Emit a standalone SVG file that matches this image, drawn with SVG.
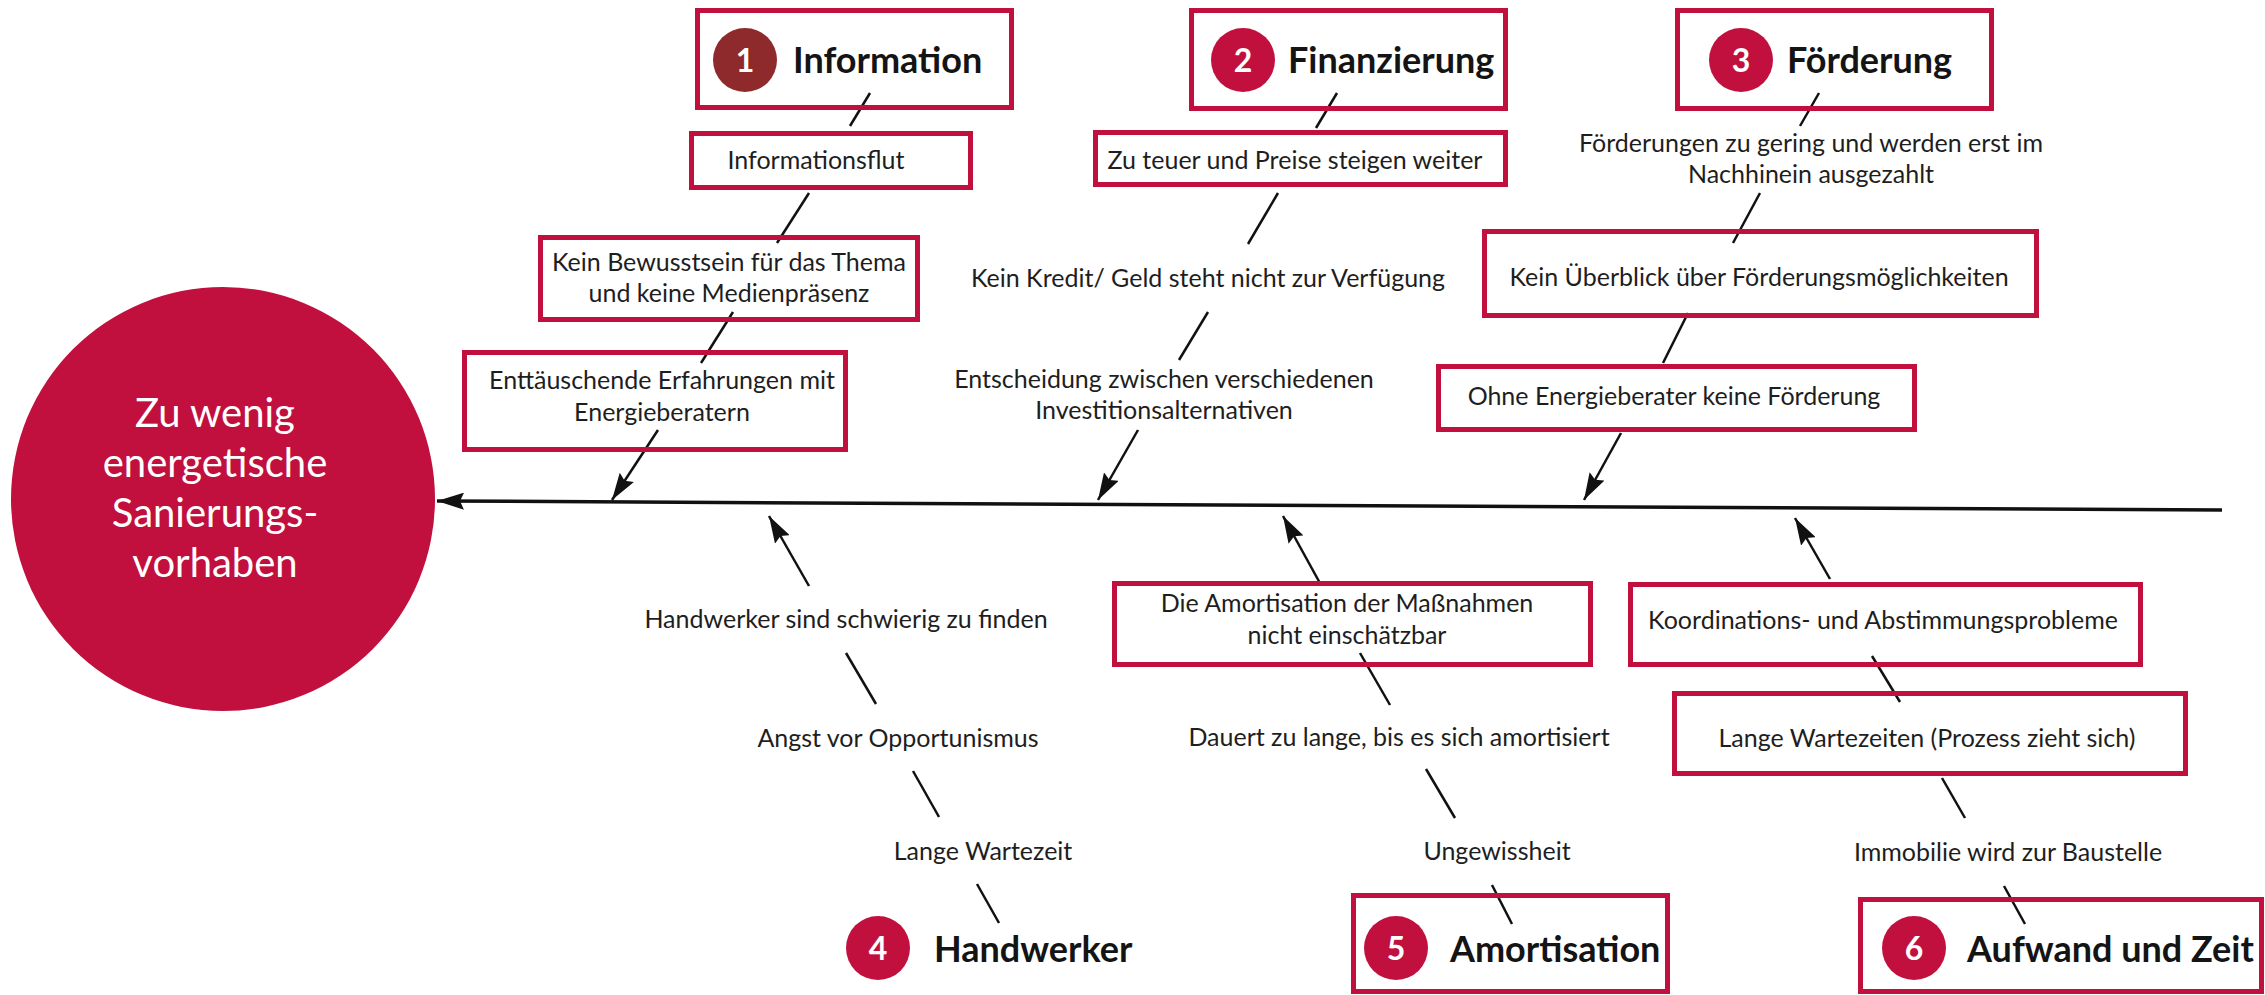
<svg xmlns="http://www.w3.org/2000/svg" width="2265" height="995" viewBox="0 0 2265 995">
<style>
.box{fill:#fff;stroke:#c1103e;stroke-width:5}
.t{font-family:Lato,"Liberation Sans",sans-serif;font-size:25px;fill:#1e1e1e;text-anchor:middle}
.h{font-family:Lato,"Liberation Sans",sans-serif;font-size:36px;font-weight:bold;fill:#141414}
.num{font-family:Lato,"Liberation Sans",sans-serif;font-size:32px;font-weight:bold;fill:#fff;text-anchor:middle}
.dot{fill:#c1103e}
.c line{stroke:#111;stroke-width:2.5}
</style>
<defs>
<marker id="ah" viewBox="0 0 27 17" refX="27" refY="8.5" markerWidth="27" markerHeight="17" orient="auto" markerUnits="userSpaceOnUse">
<path d="M0,0 L27,8.5 L0,17 L4,8.5 z" fill="#111"/>
</marker>
</defs>

<g id="effect">
<circle cx="223" cy="499" r="212" fill="#c1103e"/>
<text x="215" y="427" font-family="Lato,'Liberation Sans',sans-serif" font-size="40" fill="#fff" text-anchor="middle">Zu wenig</text>
<text x="215" y="477" font-family="Lato,'Liberation Sans',sans-serif" font-size="40" fill="#fff" text-anchor="middle">energetische</text>
<text x="215" y="527" font-family="Lato,'Liberation Sans',sans-serif" font-size="40" fill="#fff" text-anchor="middle">Sanierungs-</text>
<text x="215" y="577" font-family="Lato,'Liberation Sans',sans-serif" font-size="40" fill="#fff" text-anchor="middle">vorhaben</text>
</g>

<g id="connectors" class="c">
<line x1="2222" y1="510" x2="437" y2="501" style="stroke-width:3.5" marker-end="url(#ah)"/>
<line x1="870" y1="93" x2="850" y2="126"/>
<line x1="809" y1="193" x2="777" y2="243"/>
<line x1="733" y1="312" x2="701" y2="363"/>
<line x1="658" y1="430" x2="612" y2="500" marker-end="url(#ah)"/>
<line x1="1337" y1="93" x2="1316" y2="128"/>
<line x1="1278" y1="193" x2="1248" y2="244"/>
<line x1="1208" y1="312" x2="1179" y2="360"/>
<line x1="1138" y1="430" x2="1098" y2="500" marker-end="url(#ah)"/>
<line x1="1819" y1="93" x2="1800" y2="126"/>
<line x1="1760" y1="193" x2="1733" y2="243"/>
<line x1="1688" y1="313" x2="1663" y2="363"/>
<line x1="1621" y1="433" x2="1584" y2="500" marker-end="url(#ah)"/>
<line x1="809" y1="586" x2="769" y2="516" marker-end="url(#ah)"/>
<line x1="846" y1="653" x2="876" y2="704"/>
<line x1="913" y1="771" x2="939" y2="817"/>
<line x1="977" y1="884" x2="999" y2="923"/>
<line x1="1321" y1="585" x2="1283" y2="516" marker-end="url(#ah)"/>
<line x1="1360" y1="653" x2="1390" y2="705"/>
<line x1="1426" y1="769" x2="1455" y2="818"/>
<line x1="1492" y1="885" x2="1512" y2="924"/>
<line x1="1830" y1="579" x2="1795" y2="518" marker-end="url(#ah)"/>
<line x1="1872" y1="656" x2="1900" y2="702"/>
<line x1="1942" y1="778" x2="1965" y2="818"/>
<line x1="2004" y1="886" x2="2025" y2="924"/>
</g>

<g id="cat1">
<rect class="box" x="697.5" y="10.5" width="314" height="97" style="fill:none"/>
<circle cx="745" cy="60" r="32" fill="#8e2a2b"/>
<text class="num" x="745" y="72">1</text>
<text class="h" x="793" y="73">Information</text>
</g>
<g id="cat2">
<rect class="box" x="1191.5" y="10.5" width="314" height="98" style="fill:none"/>
<circle class="dot" cx="1243" cy="60" r="32"/>
<text class="num" x="1243" y="72">2</text>
<text class="h" x="1288" y="73">Finanzierung</text>
</g>
<g id="cat3">
<rect class="box" x="1677.5" y="10.5" width="314" height="98" style="fill:none"/>
<circle class="dot" cx="1741" cy="60" r="32"/>
<text class="num" x="1741" y="72">3</text>
<text class="h" x="1787" y="73">Förderung</text>
</g>
<g id="cat4">
<circle class="dot" cx="878" cy="948" r="32"/>
<text class="num" x="878" y="960">4</text>
<text class="h" x="934" y="962">Handwerker</text>
</g>
<g id="cat5">
<rect class="box" x="1353.5" y="895.5" width="314" height="96" style="fill:none"/>
<circle class="dot" cx="1396" cy="948" r="32"/>
<text class="num" x="1396" y="960">5</text>
<text class="h" x="1450" y="962">Amortisation</text>
</g>
<g id="cat6">
<rect class="box" x="1860.5" y="899.5" width="401" height="92" style="fill:none"/>
<circle class="dot" cx="1914" cy="948" r="32"/>
<text class="num" x="1914" y="960">6</text>
<text class="h" x="1967" y="962">Aufwand und Zeit</text>
</g>

<g id="c1a">
<rect class="box" x="691.5" y="133.5" width="279" height="54" style="fill:none"/>
<text class="t" x="816" y="169">Informationsflut</text>
</g>
<g id="c1b">
<rect class="box" x="540.5" y="237.5" width="377" height="82" style="fill:none"/>
<text class="t" x="729" y="271">Kein Bewusstsein für das Thema</text>
<text class="t" x="729" y="302">und keine Medienpräsenz</text>
</g>
<g id="c1c">
<rect class="box" x="464.5" y="352.5" width="381" height="97" style="fill:none"/>
<text class="t" x="662" y="389">Enttäuschende Erfahrungen mit</text>
<text class="t" x="662" y="421">Energieberatern</text>
</g>
<g id="c2a">
<rect class="box" x="1095.5" y="132.5" width="410" height="52" style="fill:none"/>
<text class="t" x="1295" y="169">Zu teuer und Preise steigen weiter</text>
</g>
<g id="c2b">
<text class="t" x="1208" y="287">Kein Kredit/ Geld steht nicht zur Verfügung</text>
</g>
<g id="c2c">
<text class="t" x="1164" y="388">Entscheidung zwischen verschiedenen</text>
<text class="t" x="1164" y="419">Investitionsalternativen</text>
</g>
<g id="c3a">
<text class="t" x="1811" y="152">Förderungen zu gering und werden erst im</text>
<text class="t" x="1811" y="183">Nachhinein ausgezahlt</text>
</g>
<g id="c3b">
<rect class="box" x="1484.5" y="231.5" width="552" height="84" style="fill:none"/>
<text class="t" x="1759" y="286">Kein Überblick über Förderungsmöglichkeiten</text>
</g>
<g id="c3c">
<rect class="box" x="1438.5" y="366.5" width="476" height="63" style="fill:none"/>
<text class="t" x="1674" y="405">Ohne Energieberater keine Förderung</text>
</g>
<g id="c4a">
<text class="t" x="846" y="628">Handwerker sind schwierig zu finden</text>
</g>
<g id="c4b">
<text class="t" x="898" y="747">Angst vor Opportunismus</text>
</g>
<g id="c4c">
<text class="t" x="983" y="860">Lange Wartezeit</text>
</g>
<g id="c5a">
<rect class="box" x="1114.5" y="583.5" width="476" height="81" style="fill:none"/>
<text class="t" x="1347" y="612">Die Amortisation der Maßnahmen</text>
<text class="t" x="1347" y="644">nicht einschätzbar</text>
</g>
<g id="c5b">
<text class="t" x="1399" y="746">Dauert zu lange, bis es sich amortisiert</text>
</g>
<g id="c5c">
<text class="t" x="1497" y="860">Ungewissheit</text>
</g>
<g id="c6a">
<rect class="box" x="1630.5" y="584.5" width="510" height="80" style="fill:none"/>
<text class="t" x="1883" y="629">Koordinations- und Abstimmungsprobleme</text>
</g>
<g id="c6b">
<rect class="box" x="1674.5" y="693.5" width="511" height="80" style="fill:none"/>
<text class="t" x="1927" y="747">Lange Wartezeiten (Prozess zieht sich)</text>
</g>
<g id="c6c">
<text class="t" x="2008" y="861">Immobilie wird zur Baustelle</text>
</g>
</svg>
